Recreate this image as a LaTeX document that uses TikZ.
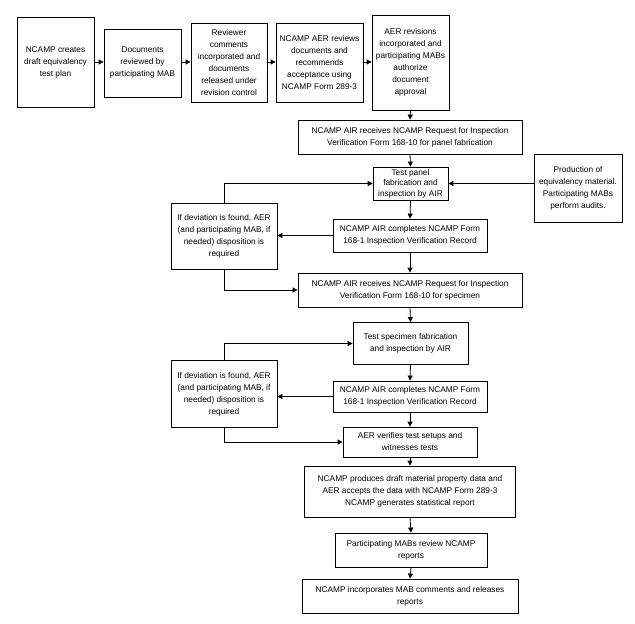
\documentclass[tikz,border=0pt]{standalone}
\usepackage{fontspec}
\setmainfont{Liberation Sans}
\usetikzlibrary{arrows.meta}
\begin{document}
\begin{tikzpicture}[x=1pt,y=-1pt,
  box/.style={draw=black,line width=0.8pt,align=center,inner sep=0pt,
    font=\fontsize{8.3}{12}\selectfont},
  arr/.style={line width=0.8pt,-{Triangle[length=5pt,width=5pt]}},
  ln/.style={line width=0.8pt}]
\useasboundingbox (0,0) rectangle (635,624);
\node[box,minimum width=77,minimum height=90] (b1) at (55.5,62) {NCAMP creates\\draft equivalency\\test plan};
\node[box,minimum width=77,minimum height=68] (b2) at (142.5,63) {Documents\\reviewed by\\participating MAB};
\node[box,minimum width=76,minimum height=79] (b3) at (229,62.5) {Reviewer\\comments\\incorporated and\\documents\\released under\\revision control};
\node[box,minimum width=87,minimum height=79] (b4) at (319.5,62.5) {NCAMP AER reviews\\documents and\\recommends\\acceptance using\\NCAMP Form 289-3};
\node[box,minimum width=77,minimum height=95] (b5) at (410.5,62.5) {AER revisions\\incorporated and\\participating MABs\\authorize\\document\\approval};
\node[box,minimum width=224,minimum height=34] (b6) at (410,137) {NCAMP AIR receives NCAMP Request for Inspection\\Verification Form 168-10 for panel fabrication};
\node[box,minimum width=75,minimum height=33,font=\fontsize{8.3}{10.5}\selectfont] (b7) at (410.5,183.5) {Test panel\\fabrication and\\inspection by AIR};
\node[box,minimum width=88,minimum height=68] (prod) at (578,188) {Production of\\equivalency material.\\Participating MABs\\perform audits.};
\node[box,minimum width=106,minimum height=66] (dev1) at (224,236) {If deviation is found, AER\\(and participating MAB, if\\needed) disposition is\\required};
\node[box,minimum width=154,minimum height=33] (airc1) at (410,235.5) {NCAMP AIR completes NCAMP Form\\168-1 Inspection Verification Record};
\node[box,minimum width=224,minimum height=34] (spec) at (410,290) {NCAMP AIR receives NCAMP Request for Inspection\\Verification Form 168-10 for specimen};
\node[box,minimum width=115,minimum height=42] (tspec) at (410.5,343.5) {Test specimen fabrication\\and inspection by AIR};
\node[box,minimum width=106,minimum height=67] (dev2) at (224,394) {If deviation is found, AER\\(and participating MAB, if\\needed) disposition is\\required};
\node[box,minimum width=154,minimum height=31] (airc2) at (410,396.5) {NCAMP AIR completes NCAMP Form\\168-1 Inspection Verification Record};
\node[box,minimum width=134,minimum height=30] (aer) at (410,442) {AER verifies test setups and\\witnesses tests};
\node[box,minimum width=211,minimum height=51] (prodd) at (410,491.5) {NCAMP produces draft material property data and\\AER accepts the data with NCAMP Form 289-3\\NCAMP generates statistical report};
\node[box,minimum width=152,minimum height=34] (part) at (411,550) {Participating MABs review NCAMP\\reports};
\node[box,minimum width=216,minimum height=34] (inc) at (410,596) {NCAMP incorporates MAB comments and releases\\reports};
% top row
\draw[arr] (b1.east |- 0,62) -- (b2.west |- 0,62);
\draw[arr] (b2.east |- 0,62) -- (b3.west |- 0,62);
\draw[arr] (b3.east |- 0,62) -- (b4.west |- 0,62);
\draw[arr] (b4.east |- 0,62) -- (b5.west |- 0,62);
% main column
\draw[arr] (b5.south) -- (b6.north);
\draw[arr] (b6.south) -- (b7.north);
\draw[arr] (prod.west |- b7.east) -- (b7.east);
\draw[arr] (b7.south) -- (airc1.north);
\draw[arr] (airc1.west) -- (dev1.east |- airc1.west);
\draw[arr] (dev1.north) |- (b7.west);
\draw[arr] (airc1.south) -- (spec.north);
\draw[arr] (dev1.south) |- (spec.west);
\draw[arr] (spec.south) -- (tspec.north);
\draw[arr] (dev2.north) |- (tspec.west);
\draw[arr] (tspec.south) -- (airc2.north);
\draw[arr] (airc2.west) -- (dev2.east |- airc2.west);
\draw[arr] (dev2.south) |- (aer.west);
\draw[arr] (airc2.south) -- (aer.north);
\draw[arr] (aer.south) -- (prodd.north);
\draw[arr] (prodd.south) -- (part.north);
\draw[arr] (part.south) -- (inc.north);
\end{tikzpicture}
\end{document}
